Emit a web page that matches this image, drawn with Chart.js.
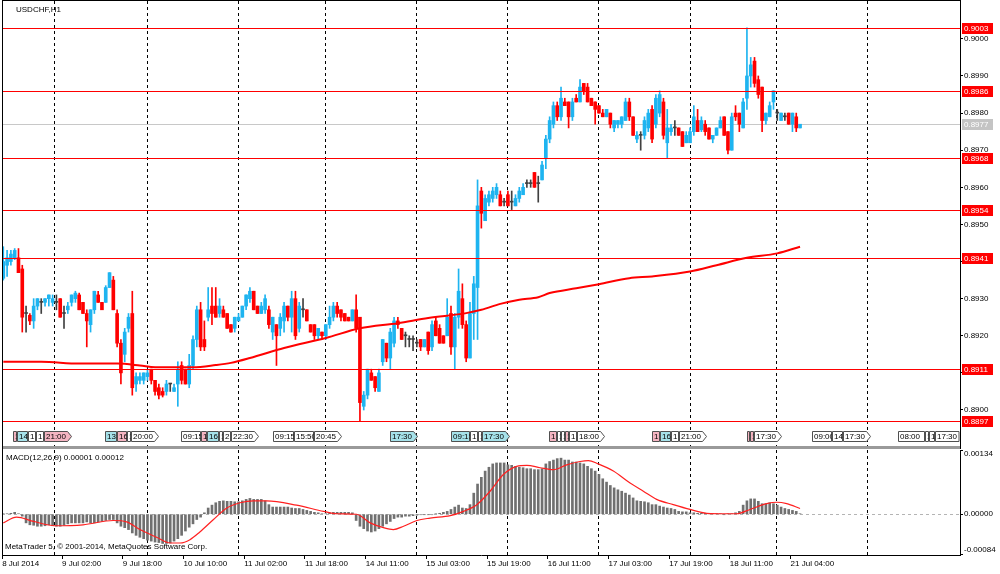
<!DOCTYPE html>
<html>
<head>
<meta charset="utf-8">
<script src="https://cdn.jsdelivr.net/npm/chart.js@4.4.1/dist/chart.umd.min.js"></script>
<style>
  html, body { margin: 0; padding: 0; background: #fff; }
  #wrap { position: relative; width: 1000px; height: 574px; overflow: hidden; }
  canvas { position: absolute; left: 0; }
  #main { top: 0; }
  #macd { top: 449px; }
</style>
</head>
<body>
<div id="wrap">
  <canvas id="main" width="1000" height="449"></canvas>
  <canvas id="macd" width="1000" height="125"></canvas>
</div>
<script>
// USDCHF H1 candles, bar 0 = 8 Jul 2014 10:00
const opens = [
  .89355, .8939, .8940, .8941, .8941, .8938, .8926, .89255, .8924, .8928,
  .8929, .8929, .8930, .8929, .8929, .8930, .8926, .8927, .8929, .8930,
  .8931, .8929, .8926, .8923, .8927, .8931, .8929, .8929, .8933, .8935,
  .8926, .8918, .8915, .8922, .8926, .8907, .8908, .8908, .8909, .8911,
  .8908, .8906, .8905, .8905, .8907, .8905, .8907, .8912, .8911, .8907,
  .8912, .8919, .8927, .8919, .8925, .8928, .8928, .8926, .8927, .8926,
  .8923, .8922, .8924, .8925, .8928, .8930, .8932, .8928, .8926, .8927,
  .8927, .8921, .8923, .8922, .8924, .8928, .8925, .8930, .8922, .8927,
  .8927, .8923, .8923, .8920, .8921, .8920, .8923, .8925, .8928, .8927,
  .8926, .8925, .8924, .8927, .8925, .8901, .8904, .8910, .8909, .8905,
  .8913, .8918, .8914, .8918, .8924, .8922, .8920, .8919, .8919, .8918,
  .8919, .8917, .8921, .8917, .8924, .8922, .8920, .8920, .8926, .8917,
  .8925, .8930, .8923, .8914, .8926, .8933, .8959, .8951, .8956, .8957,
  .8958, .8958, .8956, .8958, .8956, .8955, .8957, .8958, .8961, .8961,
  .8964, .8961, .8962, .8968, .8973, .8977, .8982, .8979, .8983, .8983,
  .8979, .8984, .8983, .8988, .8987, .8984, .8983, .8982, .8980, .8979,
  .8980, .8976, .8977, .8977, .8978, .8983, .8979, .8973, .8974, .8974,
  .8976, .8981, .8977, .8980, .8983, .8972, .8975, .8976, .8976, .8975,
  .8972, .8972, .8975, .8978, .89755, .8977, .8976, .8973, .8974, .8976,
  .8979, .8975, .8970, .8980, .8980, .8976, .8984, .8990, .8994, .8989,
  .8987, .8978, .8979, .8983, .8980, .8978, .8979, .8980, .8977, .8979, .8976
];
const highs = [
  .8944, .8943, .8943, .89435, .89435, .8939, .8928, .8926, .8930, .8930,
  .8930, .8930, .8931, .8931, .8931, .8930, .8928, .8929, .8931, .8932,
  .89315, .8929, .8927, .8927, .8932, .8932, .8929, .89335, .8937, .8936,
  .8927, .8919, .8922, .8926, .8932, .8910, .8910, .8910, .8911, .8911,
  .8908, .8907, .8906, .8908, .8907, .8907, .8913, .8913, .8911, .8915,
  .8920, .8928, .8929, .8924, .8933, .8933, .8933, .8930, .8928, .8926,
  .8923, .8925, .8926, .8928, .8931, .8933, .8932, .8928, .8929, .8931,
  .8928, .8925, .8923, .8926, .8929, .8928, .8932, .8932, .8929, .8930,
  .8927, .8923, .8923, .8922, .8921, .8923, .8928, .8929, .8929, .8927,
  .8926, .8925, .8927, .8931, .8925, .8905, .8911, .8911, .8909, .8911,
  .8919, .8918, .8922, .8925, .8925, .8922, .8921, .8920, .8920, .8919,
  .8919, .8919, .8921, .8924, .8925, .8923, .8920, .8930, .8928, .8926,
  .8938, .8934, .8924, .8929, .8936, .8962, .8960, .8958, .8959, .8960,
  .8961, .8959, .8957, .8959, .8959, .8958, .8960, .8961, .8962, .8962,
  .8964, .8963, .8967, .8974, .8979, .8983, .8983, .8987, .8984, .8983,
  .8984, .8985, .8989, .8988, .8988, .8984, .8983, .8982, .8981, .8981,
  .8980, .8978, .8978, .8979, .8984, .8984, .8979, .8975, .8975, .8979,
  .8981, .8982, .8985, .8986, .8984, .8981, .8977, .8978, .8976, .8975,
  .8975, .8976, .8982, .8981, .8979, .8978, .8976, .8974, .8976, .8979,
  .8979, .8975, .8980, .8982, .8980, .8984, .9003, .8995, .8995, .8990,
  .8987, .8980, .8983, .8986, .8981, .8980, .8980, .8980, .8980, .8980, .8977
];
const lows = [
  .8935, .8936, .8939, .89405, .8937, .8921, .8921, .8923, .8922, .8927,
  .8926, .8928, .8928, .8928, .8927, .8925, .8922, .8926, .8928, .8929,
  .8927, .8926, .8917, .8921, .8926, .8929, .8927, .8929, .8933, .8927,
  .8917, .8907, .8913, .8921, .8904, .8905, .8907, .8907, .8908, .8907,
  .8904, .8903, .89035, .8904, .8905, .8905, .8901, .8907, .8907, .8906,
  .8911, .8917, .8916, .8916, .8924, .8923, .8925, .8925, .8925, .8922,
  .8921, .8921, .8924, .8925, .8927, .8929, .8927, .8926, .8926, .8926,
  .8922, .8919, .8912, .8920, .8921, .8924, .8921, .8919, .8921, .8925,
  .8924, .8921, .8919, .8919, .8919, .8919, .8922, .8924, .8925, .8924,
  .8924, .8924, .8924, .8921, .8897, .8900, .8903, .8908, .8905, .8905,
  .8912, .8913, .8911, .8917, .8922, .8919, .8917, .8917, .8916, .8917,
  .8916, .8917, .8915, .8916, .8920, .8918, .8918, .8920, .8915, .8911,
  .8922, .8922, .8913, .8914, .8919, .8919, .8949, .8951, .8955, .8956,
  .8957, .8955, .8955, .8955, .8954, .8955, .8956, .8958, .8960, .8960,
  .8960, .8956, .8962, .8965, .8972, .8976, .8978, .8978, .8982, .8976,
  .8978, .8983, .8983, .8985, .8983, .8982, .8977, .8980, .8979, .8979,
  .8976, .8975, .8976, .8976, .8978, .8978, .8974, .8972, .8970, .8973,
  .8975, .8972, .8976, .8979, .8973, .8968, .8974, .8974, .8974, .8971,
  .8972, .8972, .8974, .8975, .8975, .8974, .8973, .8972, .8974, .8976,
  .8974, .8969, .8970, .8978, .8975, .8976, .8981, .8987, .8987, .8984,
  .8975, .8977, .8979, .8981, .8978, .8978, .8978, .8977, .8975, .8975, .8976
];
const closes = [
  .8940, .8941, .8942, .8943, .8937, .8925, .8926, .8924, .8928, .8930,
  .8929, .8930, .8931, .8930, .8929, .8925, .8926, .8928, .8931, .89315,
  .8927, .8926, .8924, .8927, .8932, .8929, .8927, .8933, .8937, .8927,
  .8918, .8910, .8921, .8925, .8906, .8909, .8909, .8910, .8910, .8908,
  .8905, .8904, .8904, .8907, .8907, .8906, .8911, .8908, .8907, .8912,
  .8919, .8927, .8917, .8917, .8927, .8926, .8925, .8928, .8925, .8922,
  .8921, .8925, .8925, .8928, .8931, .8932, .8927, .8926, .8928, .8930,
  .8923, .8925, .8920, .8925, .8928, .8925, .8930, .8920, .8928, .8927,
  .8924, .8921, .8920, .8922, .8920, .8923, .8925, .8928, .8926, .8925,
  .8924, .8924, .8927, .8922, .8902, .8904, .8911, .8908, .8906, .8910,
  .8919, .8914, .8921, .8924, .8923, .8919, .8920, .8919, .8919, .8918,
  .8917, .8919, .8916, .8923, .8920, .8918, .8918, .8925, .8917, .8925,
  .8932, .8923, .8914, .8926, .8934, .8955, .8953, .8957, .8958, .8959,
  .8960, .8955, .8956, .8955, .8956, .8957, .8959, .8960, .8961, .8961,
  .8960, .8961, .8966, .8973, .8978, .8982, .8979, .8984, .8982, .8979,
  .8983, .8983, .8987, .8986, .8983, .8982, .8981, .8980, .8979, .8981,
  .8977, .8978, .8978, .8979, .8983, .8979, .8974, .8974, .8974, .8978,
  .8980, .8973, .8984, .8985, .8974, .8976, .8976, .8976, .8974, .8971,
  .8974, .8975, .8979, .8975, .8978, .8975, .8973, .8974, .8976, .8978,
  .8974, .8970, .8979, .8979, .8977, .8983, .8990, .8993, .8988, .8985,
  .8978, .8980, .8982, .8986, .8980, .8980, .8979, .8977, .8980, .8976, .8977
];

// moving average, read at these bars
const maBars = [0, 10, 20, 30, 36, 40, 50, 56, 60, 65, 74, 85, 94, 104, 112, 122, 126, 131, 136, 141, 144, 151, 157, 165, 171, 181, 188, 196, 204, 210];
const maVals = [0.8913, 0.8913, 0.89125, 0.89125, 0.8912, 0.89115, 0.89115, 0.89121, 0.89127, 0.8914, 0.89167, 0.89194, 0.8922, 0.89234, 0.89248, 0.89261, 0.8927, 0.89286, 0.89297, 0.89304, 0.89315, 0.89328, 0.89339, 0.89355, 0.8936, 0.89373, 0.8939, 0.8941, 0.89422, 0.8944];

// horizontal price levels
const levels = [0.9003, 0.8986, 0.8968, 0.8954, 0.8941, 0.8911, 0.8897];
const bidPrice = 0.8977;
const priceTicks = [0.8900, 0.8910, 0.8920, 0.8930, 0.8940, 0.8950, 0.8960, 0.8970, 0.8980, 0.8990, 0.9000];

// MACD(12,26,9)
const macdHist = [
  0.00001, 0.00001, 0.00002, 0.00004, 0.00001, -0.00004, -0.00018, -0.00022, -0.00023, -0.00025,
  -0.00025, -0.00024, -0.00022, -0.00024, -0.00025, -0.00025, -0.00023, -0.00020, -0.00018, -0.00018,
  -0.00018, -0.00018, -0.00016, -0.00018, -0.00018, -0.00016, -0.00015, -0.00013, -0.00011, -0.00011,
  -0.00018, -0.00025, -0.00028, -0.00032, -0.00039, -0.00044, -0.00048, -0.00051, -0.00054, -0.00056,
  -0.00058, -0.00059, -0.00061, -0.00061, -0.00060, -0.00056, -0.00051, -0.00044, -0.00035, -0.00027,
  -0.00020, -0.00011, -0.00006, 0.00003, 0.00013, 0.00019, 0.00024, 0.00027, 0.00028, 0.00027,
  0.00027, 0.00026, 0.00026, 0.00028, 0.00031, 0.00033, 0.00031, 0.00031, 0.00031, 0.00028,
  0.00020, 0.00015, 0.00015, 0.00015, 0.00015, 0.00015, 0.00013, 0.00012, 0.00012, 0.00010,
  0.00008, 0.00006, 0.00004, 0.00003, 0.00001, 0.00001, 0.00003, 0.00004, 0.00004, 0.00004,
  0.00004, 0.00004, 0.00003, -0.00013, -0.00025, -0.00030, -0.00035, -0.00037, -0.00035, -0.00030,
  -0.00025, -0.00020, -0.00015, -0.00009, -0.00006, -0.00006, -0.00004, -0.00004, -0.00003, -0.00002,
  -0.00001, -0.00001, -0.00001, -0.00001, 0.00001, 0.00002, 0.00004, 0.00006, 0.00010, 0.00015,
  0.00019, 0.00013, 0.00012, 0.00020, 0.00044, 0.00063, 0.00077, 0.00090, 0.00098, 0.00105,
  0.00107, 0.00107, 0.00107, 0.00103, 0.00102, 0.00100, 0.00098, 0.00097, 0.00095, 0.00095,
  0.00093, 0.00093, 0.00095, 0.00105, 0.00110, 0.00113, 0.00116, 0.00117, 0.00113, 0.00113,
  0.00109, 0.00109, 0.00107, 0.00105, 0.00100, 0.00095, 0.00090, 0.00083, 0.00074, 0.00067,
  0.00060, 0.00055, 0.00051, 0.00048, 0.00044, 0.00040, 0.00034, 0.00028, 0.00027, 0.00026,
  0.00024, 0.00020, 0.00020, 0.00017, 0.00015, 0.00013, 0.00012, 0.00010, 0.00006, 0.00005,
  0.00005, 0.00003, 0.00003, 0.00002, 0.00002, 0.00002, 0.00001, 0.00001, 0.00001, 0.00001,
  -0.00001, 0.00001, 0.00001, 0.00003, 0.00006, 0.00019, 0.00028, 0.00032, 0.00032, 0.00027,
  0.00022, 0.00022, 0.00024, 0.00022, 0.00019, 0.00015, 0.00012, 0.00010, 0.00008, 0.00006, 0.00001
];
const sigBars = [0, 3.5, 8, 13.6, 21, 29, 32.5, 36, 40.4, 44, 46.6, 49.2, 51.8, 55.4, 58.9, 62.4, 65.9, 69.4, 77.3, 84.4, 87.9, 93.1, 96.7, 100.2, 102.8, 105.5, 109, 112.5, 117.8, 121.3, 124.8, 128.3, 131.8, 135.3, 138, 141.5, 145, 148.5, 152, 154.2, 156.8, 160.8, 165.2, 168.7, 172.2, 176.6, 181, 185.4, 190.7, 193.3, 196.8, 201.2, 203.9, 206.5, 210];
const sigVals = [-0.00018, -0.00006, -0.00015, -0.00024, -0.00022, -0.00013, -0.00016, -0.00032, -0.00048, -0.0006, -0.0006, -0.00053, -0.00037, -0.00011, 0.00013, 0.00024, 0.00028, 0.00028, 0.00019, 0.00006, 0.00001, 0, -0.00018, -0.00028, -0.00032, -0.00025, -0.00013, -0.00008, -0.00003, 0.00006, 0.0002, 0.00048, 0.00083, 0.001, 0.00102, 0.00097, 0.00093, 0.00103, 0.0011, 0.00112, 0.00105, 0.0009, 0.00065, 0.00048, 0.00031, 0.0002, 0.0001, 0.00002, 0.00001, 0.00001, 0.0001, 0.00022, 0.00025, 0.00022, 0.00012];
const macdTicks = [0.00134, 0, -0.00084];

// time axis (bar positions of the labels)
const labelBars = [-0.3, 15.5, 31.5, 47.5, 63.5, 79.5, 95.5, 111.5, 127.5, 143.5, 159.5, 175.5, 191.5, 207.5];
const tickLabels = ['8 Jul 2014', '9 Jul 02:00', '9 Jul 18:00', '10 Jul 10:00', '11 Jul 02:00', '11 Jul 18:00', '14 Jul 11:00', '15 Jul 03:00', '15 Jul 19:00', '16 Jul 11:00', '17 Jul 03:00', '17 Jul 19:00', '18 Jul 11:00', '21 Jul 04:00'];
const gridBars = [13.6, 37.9, 61.9, 84.8, 108.8, 132.8, 156.8, 181, 203.9, 227.9];

// economic calendar marks
const eventBars = [2.6, 3.7, 6.5, 8.6, 10.7, 26.8, 30.0, 32.6, 33.7, 46.8, 52.0, 53.7, 56.9, 57.9, 60.0, 71.1, 76.6, 81.9, 101.9, 118.0, 123.0, 125.1, 126.2, 143.8, 145.9, 147.0, 148.0, 149.1, 151.2, 171.0, 173.1, 176.0, 178.1, 196.0, 196.8, 197.9, 213.2, 218.4, 221.3, 235.8, 242.9, 244.0, 245.6];
const eventTexts = ['12:30', '14', '1', '1', '21:00', '13', '16', '1', '20:00', '09:15', '1', '16', '1', '2', '22:30', '09:15', '15:50', '20:45', '17:30', '09:15', '1', '1', '17:30', '1', '1', '1', '1', '1', '18:00', '1', '16', '1', '21:00', '1', '1', '17:30', '09:00', '14', '17:30', '08:00', '1', '1', '17:30'];
const eventKinds = ['neg', 'pos', 'neu', 'neu', 'neg', 'pos', 'neg', 'neu', 'neu', 'neu', 'neg', 'pos', 'neu', 'neu', 'neu', 'neu', 'neu', 'neu', 'pos', 'pos', 'neu', 'neu', 'pos', 'neg', 'neu', 'neu', 'neg', 'neu', 'neu', 'neg', 'pos', 'neu', 'neu', 'neg', 'neg', 'neu', 'neu', 'neu', 'neu', 'neu', 'neu', 'neu', 'neu'];

const FONT = '"Liberation Sans", Arial, sans-serif';
Chart.defaults.font.family = FONT;
Chart.defaults.font.size = 8;
Chart.defaults.color = '#000';

const xMin = -0.343, xMax = 252.16;
const candleColor = opens.map((o, i) => closes[i] > o ? '#1eb4f0' : (closes[i] < o ? '#ff0000' : '#404040'));

function fitNoPad(s) {
  s.paddingTop = 0; s.paddingBottom = 0; s.paddingLeft = 0; s.paddingRight = 0;
}

const mainDeco = {
  id: 'mainDeco',
  beforeDraw(chart) {
    const ctx = chart.ctx;
    ctx.save();
    ctx.fillStyle = '#fff';
    ctx.fillRect(0, 0, chart.width, chart.height);
    ctx.restore();
  },
  beforeDatasetsDraw(chart) {
    const { ctx, chartArea: a, scales: { y } } = chart;
    const py = Math.round(y.getPixelForValue(bidPrice)) + 0.5;
    ctx.save();
    ctx.strokeStyle = '#c8c8c8';
    ctx.lineWidth = 1;
    ctx.beginPath(); ctx.moveTo(a.left, py); ctx.lineTo(a.right, py); ctx.stroke();
    ctx.restore();
  },
  afterDatasetsDraw(chart) {
    const { ctx, chartArea: a, scales: { x, y } } = chart;
    ctx.save();
    ctx.strokeStyle = '#ff0000';
    ctx.lineWidth = 1;
    levels.forEach(l => {
      const py = Math.round(y.getPixelForValue(l)) + 0.5;
      ctx.beginPath(); ctx.moveTo(a.left, py); ctx.lineTo(a.right, py); ctx.stroke();
    });

    // calendar event tags
    const top = 431.5, h = 10;
    const fills = { pos: '#a6e2ea', neg: '#f5b5c2', neu: '#ffffff' };
    ctx.font = '8px ' + FONT;
    ctx.textBaseline = 'middle';
    ctx.textAlign = 'left';
    for (let i = 0; i < eventBars.length; i++) {
      const x0 = Math.round(x.getPixelForValue(eventBars[i])) + 0.5;
      if (x0 >= a.right) continue;
      const next = i + 1 < eventBars.length ? Math.round(x.getPixelForValue(eventBars[i + 1])) + 0.5 : a.right;
      const tw = ctx.measureText(eventTexts[i]).width;
      const full = tw + 3 + 4;
      const room = Math.min(next, a.right) - x0 - 1;
      const w = Math.min(full, room);
      ctx.beginPath();
      if (full <= room) {
        ctx.moveTo(x0, top);
        ctx.lineTo(x0 + w - 4, top);
        ctx.lineTo(x0 + w, top + h / 2);
        ctx.lineTo(x0 + w - 4, top + h);
        ctx.lineTo(x0, top + h);
        ctx.closePath();
      } else {
        ctx.rect(x0, top, w, h);
      }
      ctx.fillStyle = fills[eventKinds[i]];
      ctx.fill();
      ctx.strokeStyle = '#505050';
      ctx.stroke();
      ctx.save();
      ctx.beginPath(); ctx.rect(x0, top, w, h); ctx.clip();
      ctx.fillStyle = '#000';
      ctx.fillText(eventTexts[i], x0 + 1.5, top + h / 2 + 0.5);
      ctx.restore();
    }

    ctx.fillStyle = '#000';
    ctx.fillText('USDCHF,H1', 16, 10);
    ctx.restore();
  },
  afterDraw(chart) {
    const { ctx, chartArea: a, scales: { y } } = chart;
    ctx.save();
    // frame and panel separator
    ctx.fillStyle = '#9a9a9a';
    ctx.fillRect(a.left, a.bottom, a.right - a.left, 3);
    ctx.strokeStyle = '#000';
    ctx.lineWidth = 1;
    ctx.beginPath();
    ctx.moveTo(2.5, 0); ctx.lineTo(2.5, chart.height);
    ctx.moveTo(2, 0.5); ctx.lineTo(a.right, 0.5);
    ctx.moveTo(a.right + 0.5, 0); ctx.lineTo(a.right + 0.5, chart.height);
    ctx.stroke();

    // price tags on the axis
    ctx.font = '8px ' + FONT;
    ctx.textBaseline = 'middle';
    ctx.textAlign = 'left';
    const tag = (v, fill) => {
      const py = Math.round(y.getPixelForValue(v));
      ctx.fillStyle = fill;
      ctx.fillRect(a.right + 2, py - 5, 31, 11);
      ctx.fillStyle = '#fff';
      ctx.fillText(v.toFixed(4), a.right + 4, py + 0.5);
    };
    tag(bidPrice, '#c4c4c4');
    levels.forEach(l => tag(l, '#ff0000'));
    ctx.restore();
  }
};

new Chart(document.getElementById('main'), {
  type: 'bar',
  data: {
    datasets: [
      {
        type: 'line',
        data: maBars.map((b, i) => ({ x: b, y: maVals[i] })),
        borderColor: '#ff0000',
        borderWidth: 2,
        pointRadius: 0,
        cubicInterpolationMode: 'monotone',
        order: 0
      },
      {
        data: opens.map((o, i) => ({ x: i, y: [o, closes[i]] })),
        backgroundColor: candleColor,
        barThickness: 3,
        minBarLength: 1,
        grouped: false,
        order: 1
      },
      {
        data: lows.map((l, i) => ({ x: i, y: [l, highs[i]] })),
        backgroundColor: candleColor,
        barThickness: 1,
        grouped: false,
        order: 2
      }
    ]
  },
  options: {
    responsive: false,
    animation: false,
    events: [],
    layout: { padding: { left: 2, top: 1, right: 0, bottom: 3 } },
    plugins: { legend: { display: false }, tooltip: { enabled: false } },
    scales: {
      x: {
        type: 'linear',
        min: xMin,
        max: xMax,
        offset: false,
        afterFit: s => { s.height = 0; fitNoPad(s); },
        afterBuildTicks: s => { s.ticks = gridBars.map(v => ({ value: v })); },
        ticks: { display: false },
        grid: { color: '#000', drawTicks: false, offset: false },
        border: { display: false, dash: [3, 3] }
      },
      y: {
        position: 'right',
        min: 0.88903,
        max: 0.90102,
        afterFit: s => { s.width = 40; fitNoPad(s); },
        afterBuildTicks: s => { s.ticks = priceTicks.map(v => ({ value: v })); },
        ticks: { padding: 1, callback: v => v.toFixed(4) },
        grid: { drawOnChartArea: false, tickLength: 3, color: '#000' },
        border: { color: '#000' }
      }
    }
  },
  plugins: [mainDeco]
});

const macdDeco = {
  id: 'macdDeco',
  beforeDraw(chart) {
    const ctx = chart.ctx;
    ctx.save();
    ctx.fillStyle = '#fff';
    ctx.fillRect(0, 0, chart.width, chart.height);
    ctx.restore();
  },
  beforeDatasetsDraw(chart) {
    const { ctx, chartArea: a, scales: { y } } = chart;
    const py = Math.round(y.getPixelForValue(0)) + 0.5;
    ctx.save();
    ctx.strokeStyle = '#b4b4b4';
    ctx.setLineDash([3, 3]);
    ctx.beginPath(); ctx.moveTo(a.left, py); ctx.lineTo(a.right, py); ctx.stroke();
    ctx.restore();
  },
  afterDraw(chart) {
    const { ctx, chartArea: a, scales: { y } } = chart;
    ctx.save();
    ctx.strokeStyle = '#000';
    ctx.lineWidth = 1;
    ctx.beginPath();
    ctx.moveTo(2.5, 0); ctx.lineTo(2.5, a.bottom);
    ctx.stroke();
    ctx.font = '8px ' + FONT;
    ctx.fillStyle = '#000';
    ctx.textBaseline = 'middle';
    ctx.textAlign = 'left';
    ctx.fillText('MACD(12,26,9) 0.00001 0.00012', 6, 9);
    ctx.fillText('MetaTrader 5, \u00a9 2001-2014, MetaQuotes Software Corp.', 5, 98);
    macdTicks.forEach(v => {
      let py = y.getPixelForValue(v);
      py = Math.min(Math.max(py, a.top + 4), a.bottom - 5);
      ctx.fillText(v.toFixed(5), a.right + 4, py);
    });
    ctx.restore();
  }
};

new Chart(document.getElementById('macd'), {
  type: 'bar',
  data: {
    datasets: [
      {
        type: 'line',
        data: sigBars.map((b, i) => ({ x: b, y: sigVals[i] })),
        borderColor: '#ff2020',
        borderWidth: 1.2,
        pointRadius: 0,
        cubicInterpolationMode: 'monotone',
        order: 0
      },
      {
        data: macdHist.map((v, i) => ({ x: i, y: v })),
        backgroundColor: '#707070',
        barThickness: 2,
        grouped: false,
        order: 1
      }
    ]
  },
  options: {
    responsive: false,
    animation: false,
    events: [],
    layout: { padding: { left: 2, top: 1, right: 0, bottom: 0 } },
    plugins: { legend: { display: false }, tooltip: { enabled: false } },
    scales: {
      x: {
        type: 'linear',
        min: xMin,
        max: xMax,
        offset: false,
        afterFit: s => { s.height = 19; fitNoPad(s); },
        afterBuildTicks: s => { s.ticks = labelBars.map(v => ({ value: v })); },
        ticks: {
          autoSkip: false,
          maxRotation: 0,
          align: 'start',
          padding: 0,
          callback: (v, i) => tickLabels[i]
        },
        grid: { drawOnChartArea: false, tickLength: 4, color: '#000', offset: false },
        border: { color: '#000' }
      },
      xg: {
        type: 'linear',
        position: 'bottom',
        min: xMin,
        max: xMax,
        offset: false,
        afterFit: s => { s.height = 0; fitNoPad(s); },
        afterBuildTicks: s => { s.ticks = gridBars.map(v => ({ value: v })); },
        ticks: { display: false },
        grid: { color: '#000', drawTicks: false, offset: false },
        border: { display: false, dash: [3, 3] }
      },
      y: {
        position: 'right',
        min: -0.00085,
        max: 0.00134,
        afterFit: s => { s.width = 40; fitNoPad(s); },
        afterBuildTicks: s => { s.ticks = macdTicks.map(v => ({ value: v })); },
        ticks: { display: false },
        grid: { drawOnChartArea: false, tickLength: 3, color: '#000' },
        border: { color: '#000' }
      }
    }
  },
  plugins: [macdDeco]
});
</script>
</body>
</html>
